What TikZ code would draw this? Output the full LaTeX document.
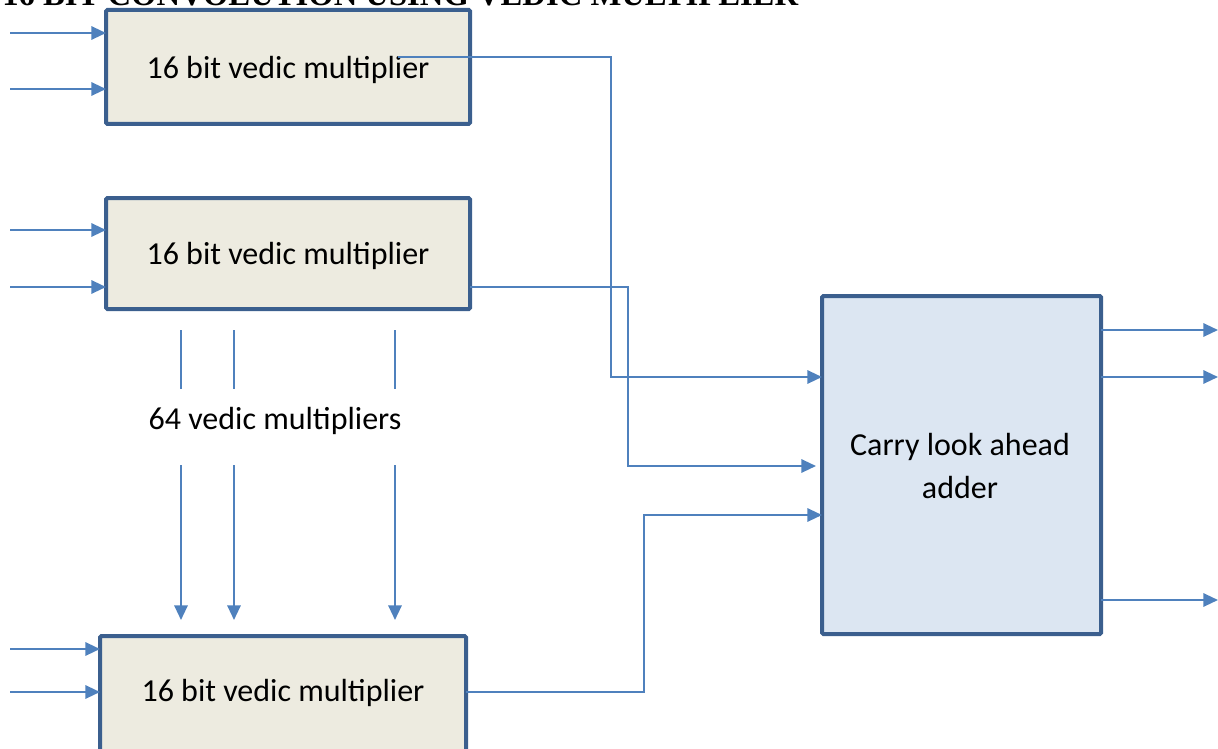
\documentclass[tikz,border=0pt]{standalone}
\usepackage{fontspec}
\setmainfont{Carlito}
\newfontfamily\titlefont{Liberation Serif}
\usetikzlibrary{arrows.meta}
\definecolor{linec}{HTML}{4F81BD}
\definecolor{borderc}{HTML}{3B5F8E}
\definecolor{multfill}{HTML}{EDEBE0}
\definecolor{addfill}{HTML}{DCE6F2}
\tikzset{
  x=0.75pt, y=-0.75pt,
  multbox/.style={draw=borderc, line width=3pt, fill=multfill, rounded corners=1pt},
  addbox/.style={draw=borderc, line width=3pt, fill=addfill, rounded corners=1pt},
  conn/.style={draw=linec, line width=1.6pt},
  arr/.style={conn, -{Triangle[length=11pt,width=10pt]}},
  lbl/.style={font=\fontsize{24}{32}\selectfont, align=center},
}
\begin{document}
\begin{tikzpicture}
\path[use as bounding box] (0,0) rectangle (1218,749);
\clip (0,0) rectangle (1218,749);
\node[anchor=base west, inner sep=0pt, font=\titlefont\bfseries\fontsize{24.5}{28}\selectfont] (title) at (2,6) {16 BIT CONVOLUTION USING VEDIC MULTIPLIER};

% boxes
\draw[multbox] (106,10) rectangle (470,124);
\node[lbl] (m1) at (288,70) {16 bit vedic multiplier};
\draw[multbox] (106,198) rectangle (470,309);
\node[lbl] (m2) at (288,256) {16 bit vedic multiplier};
\draw[multbox] (100,636) rectangle (466,760);
\node[lbl] (m3) at (283,693) {16 bit vedic multiplier};
\draw[addbox] (822,296) rectangle (1101,634);
\node[lbl] (cla) at (960,466) {Carry look ahead\\adder};
\node[lbl] (mid) at (275,421) {64 vedic multipliers};

% coordinates
\coordinate (i1a) at (10,33); \coordinate (e1a) at (106,33);
\coordinate (i1b) at (10,89); \coordinate (e1b) at (106,89);
\coordinate (i2a) at (10,230); \coordinate (e2a) at (106,230);
\coordinate (i2b) at (10,287); \coordinate (e2b) at (106,287);
\coordinate (i3a) at (10,649); \coordinate (e3a) at (100,649);
\coordinate (i3b) at (10,692); \coordinate (e3b) at (100,692);

\foreach \a/\b in {i1a/e1a,i1b/e1b,i2a/e2a,i2b/e2b,i3a/e3a,i3b/e3b}
  \draw[arr] (\a) -- (\b);

% outputs to adder
\coordinate (o1) at (398,57); \coordinate (c1) at (822,377);
\draw[arr] (o1) -| (611,377) -- (c1);
\coordinate (o2) at (470,287); \coordinate (c2) at (816,466);
\draw[arr] (o2) -| (628,466) -- (c2);
\coordinate (o3) at (466,692); \coordinate (c3) at (822,515);
\draw[arr] (o3) -| (644,515) -- (c3);

% adder outputs
\coordinate (a1) at (1101,330); \coordinate (b1) at (1218,330);
\coordinate (a2) at (1101,377); \coordinate (b2) at (1218,377);
\coordinate (a3) at (1101,600); \coordinate (b3) at (1218,600);
\draw[arr] (a1) -- (b1);
\draw[arr] (a2) -- (b2);
\draw[arr] (a3) -- (b3);

% vertical lines
\foreach \x in {181,234,395} {
  \draw[conn] (\x,330) -- (\x,389);
  \draw[arr] (\x,465) -- (\x,620);
}
\end{tikzpicture}
\end{document}
